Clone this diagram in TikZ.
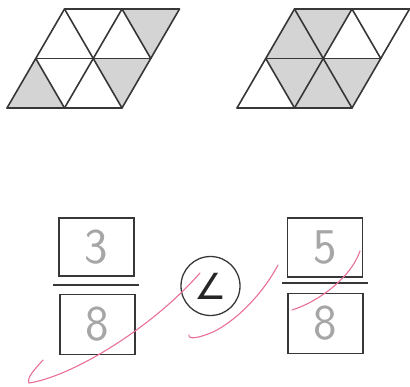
\documentclass[tikz,border=0pt]{standalone}
\usepackage{fontspec}
\usepackage{tikz}
\usetikzlibrary{positioning, calc}
\newfontfamily\symfont{DejaVu Sans}
\definecolor{shadegray}{RGB}{212,212,212}
\definecolor{pen}{RGB}{55,55,55}
\definecolor{checkpink}{RGB}{232,112,148}
\tikzset{
  edge/.style={draw=pen, line width=1.6pt, line join=round, line cap=round},
  shadetri/.style={fill=shadegray},
  numbox/.style={rectangle, draw=pen, line width=1.4pt, minimum width=75pt,
    minimum height=58pt, inner sep=0pt, text=gray!70,
    font=\sffamily\fontsize{50}{50}\selectfont},
  fracline/.style={draw=pen, line width=1.2pt},
  cmpcircle/.style={circle, draw=pen, line width=1.3pt, minimum size=59pt,
    inner sep=0pt, text=black!85, font=\symfont\fontsize{36}{36}\selectfont},
  check/.style={draw=checkpink, line width=1.1pt, line cap=round}
}

\begin{document}
\begin{tikzpicture}[x=1pt, y=-1pt]
    \useasboundingbox (0,0) rectangle (410,387);
    % left lattice: 3 of 8 shaded
    \begin{scope}[shift={(7,108)}, x={(57.5pt,0pt)}, y={(28.75pt,49.5pt)}]
      \fill[shadetri] (0,0) -- (1,0) -- (0,1) -- cycle;
      \fill[shadetri] (2,0) -- (2,1) -- (1,1) -- cycle;
      \fill[shadetri] (2,1) -- (2,2) -- (1,2) -- cycle;
      \foreach \j in {0,1,2} \draw[edge] (0,\j) -- (2,\j);
      \foreach \i in {0,1,2} \draw[edge] (\i,0) -- (\i,2);
      \draw[edge] (1,0) -- (0,1);
      \draw[edge] (2,0) -- (0,2);
      \draw[edge] (2,1) -- (1,2);
    \end{scope}
    % right lattice: 5 of 8 shaded
    \begin{scope}[shift={(237,108)}, x={(57.5pt,0pt)}, y={(28.75pt,49.5pt)}]
      \fill[shadetri] (0,1) -- (1,1) -- (0,2) -- cycle;
      \fill[shadetri] (1,1) -- (1,2) -- (0,2) -- cycle;
      \fill[shadetri] (1,0) -- (1,1) -- (0,1) -- cycle;
      \fill[shadetri] (1,0) -- (2,0) -- (1,1) -- cycle;
      \fill[shadetri] (2,0) -- (2,1) -- (1,1) -- cycle;
      \foreach \j in {0,1,2} \draw[edge] (0,\j) -- (2,\j);
      \foreach \i in {0,1,2} \draw[edge] (\i,0) -- (\i,2);
      \draw[edge] (1,0) -- (0,1);
      \draw[edge] (2,0) -- (0,2);
      \draw[edge] (2,1) -- (1,2);
    \end{scope}
    % fractions
    \node[numbox] (numL) at (96.5,247) {3};
    \node[numbox, minimum height=60pt, below=17pt of numL, xshift=1pt] (denL) {8};
    \draw[fracline] (53,285) -- (139,285);
    \node[numbox, minimum height=59pt] (numR) at (325,247.5) {5};
    \node[numbox, minimum height=60pt, below=15pt of numR, xshift=0.5pt] (denR) {8};
    \draw[fracline] (282,283) -- (368,283);
    \node[cmpcircle] (cmp) at (210.5,286) {∠};
    % pink ticks
    \draw[check] (43,360) .. controls (36,368) and (26,378) .. (29,383)
      .. controls (70,377) and (150,330) .. (200,273);
    \draw[check] (189,335) .. controls (188,340) and (200,338) .. (215,331)
      .. controls (240,318) and (265,290) .. (278,265);
    \draw[check] (292,310) .. controls (315,303) and (350,280) .. (360,251);
\end{tikzpicture}
\end{document}
